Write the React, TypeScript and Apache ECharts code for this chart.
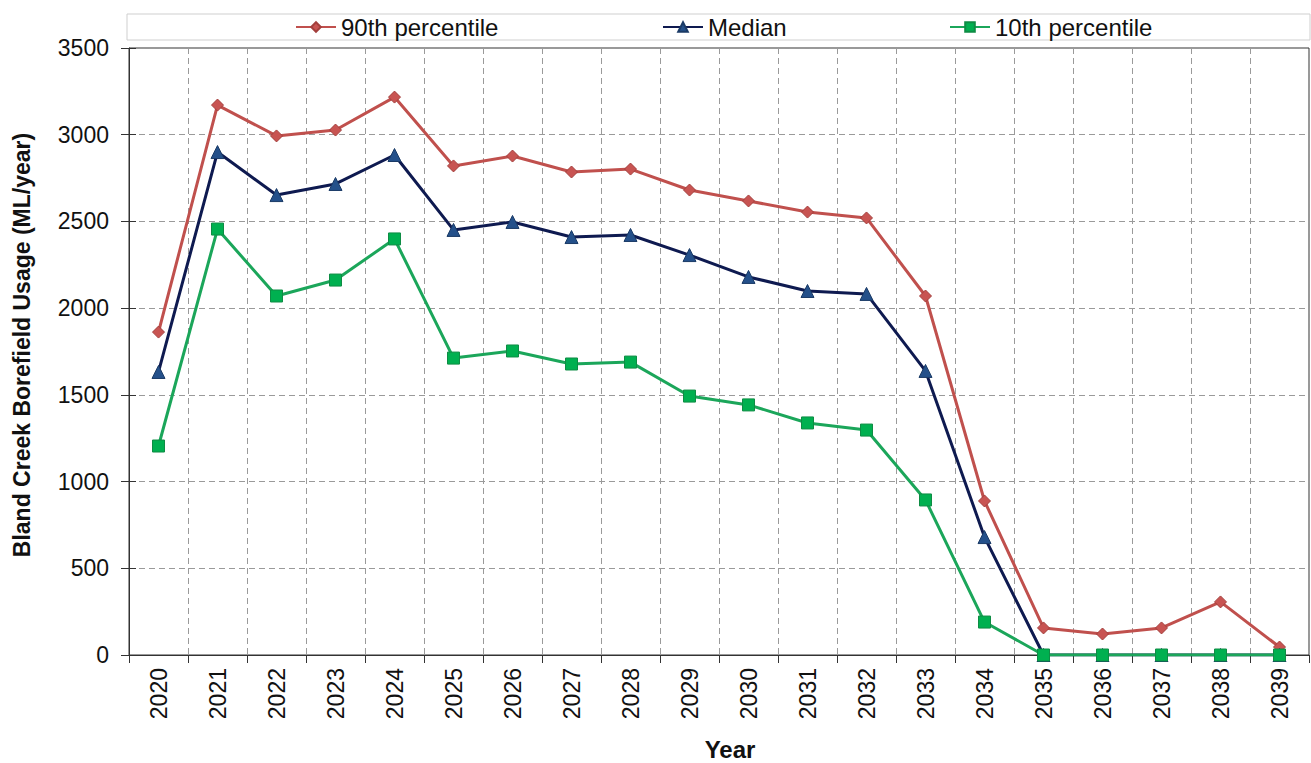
import React, { useEffect, useRef } from "react";
import * as echarts from "echarts";

const years = ["2020","2021","2022","2023","2024","2025","2026","2027","2028","2029","2030","2031","2032","2033","2034","2035","2036","2037","2038","2039"];
const p90 = [1862, 3171, 2993, 3027, 3217, 2820, 2877, 2785, 2802, 2681, 2618, 2554, 2520, 2070, 888, 156, 121, 156, 306, 46];
const median = [1632, 2900, 2652, 2716, 2883, 2451, 2497, 2410, 2422, 2306, 2180, 2099, 2082, 1638, 680, 0, 0, 0, 0, 0];
const p10 = [1205, 2456, 2070, 2162, 2399, 1712, 1753, 1678, 1689, 1493, 1442, 1338, 1297, 894, 190, 0, 0, 0, 0, 0];

const FONT = "'Liberation Sans', Arial, sans-serif";

export default function App() {
  const ref = useRef<HTMLDivElement>(null);
  useEffect(() => {
    if (!ref.current) return;
    const chart = echarts.init(ref.current, null, { renderer: "svg" });
    const gridLine = { show: true, lineStyle: { color: "#9a9a9a", type: [6, 4], width: 1 } };
    const legendBase = {
      top: 15,
      padding: 0,
      itemWidth: 40,
      itemHeight: 12,
      itemGap: 5,
      textStyle: { fontFamily: FONT, fontSize: 24, color: "#111" },
    };
    chart.setOption({
      animation: false,
      backgroundColor: "#fff",
      grid: { left: 129, right: 2, top: 48, bottom: 108, show: true, borderColor: "#333", borderWidth: 1, backgroundColor: "transparent" },
      graphic: [
        { type: "rect", shape: { x: 127, y: 14, width: 1183, height: 26 }, style: { fill: "none", stroke: "#cfcfcf", lineWidth: 1 }, z: 0 },
        { type: "text", x: 22, y: 345, rotation: Math.PI / 2, style: { text: "Bland Creek Borefield Usage (ML/year)", font: `bold 23px ${FONT}`, fill: "#111", align: "center", verticalAlign: "middle" } },
        { type: "text", x: 730, y: 749, style: { text: "Year", font: `bold 24px ${FONT}`, fill: "#111", align: "center", verticalAlign: "middle" } },
      ],
      legend: [
        { ...legendBase, left: 295, data: ["90th percentile"] },
        { ...legendBase, left: 662, data: ["Median"] },
        { ...legendBase, left: 949, data: ["10th percentile"] },
      ],
      xAxis: {
        type: "category",
        data: years,
        boundaryGap: true,
        axisLine: { lineStyle: { color: "#333", width: 1 } },
        axisTick: { show: true, length: 8, lineStyle: { color: "#333" } },
        axisLabel: { rotate: 90, margin: 13, fontFamily: FONT, fontSize: 23, color: "#111" },
        splitLine: gridLine,
      },
      yAxis: [
        {
          type: "value",
          min: 0,
          max: 3500,
          interval: 500,
          axisLine: { show: true, lineStyle: { color: "#333", width: 1 } },
          axisTick: { show: true, length: 8, lineStyle: { color: "#333" } },
          axisLabel: { margin: 20, fontFamily: FONT, fontSize: 23, color: "#111", formatter: (v: number) => String(v) },
          splitLine: gridLine,
        },
        {
          type: "value",
          position: "left",
          min: 0,
          max: 3500,
          interval: 500,
          axisLine: { show: false },
          axisTick: { show: true, inside: true, length: 7, lineStyle: { color: "#333" } },
          axisLabel: { show: false },
          splitLine: { show: false },
        },
      ],
      series: [
        {
          name: "90th percentile",
          type: "line",
          data: p90,
          symbol: "diamond",
          symbolSize: 12,
          lineStyle: { color: "#C0504D", width: 3 },
          itemStyle: { color: "#C85452", borderColor: "#A33F3C", borderWidth: 1 },
          z: 3,
        },
        {
          name: "Median",
          type: "line",
          data: median,
          symbol: "triangle",
          symbolSize: 13,
          lineStyle: { color: "#0E1A50", width: 3 },
          itemStyle: { color: "#24508A", borderColor: "#1A3A66", borderWidth: 1 },
          z: 4,
        },
        {
          name: "10th percentile",
          type: "line",
          data: p10,
          symbol: "rect",
          symbolSize: 12,
          lineStyle: { color: "#1BA65A", width: 3 },
          itemStyle: { color: "#00B050", borderColor: "#0E8C44", borderWidth: 1 },
          z: 5,
        },
      ],
    });
    return () => chart.dispose();
  }, []);
  return <div ref={ref} style={{ position: "absolute", left: 0, top: 0, width: 1311, height: 763 }} />;
}
